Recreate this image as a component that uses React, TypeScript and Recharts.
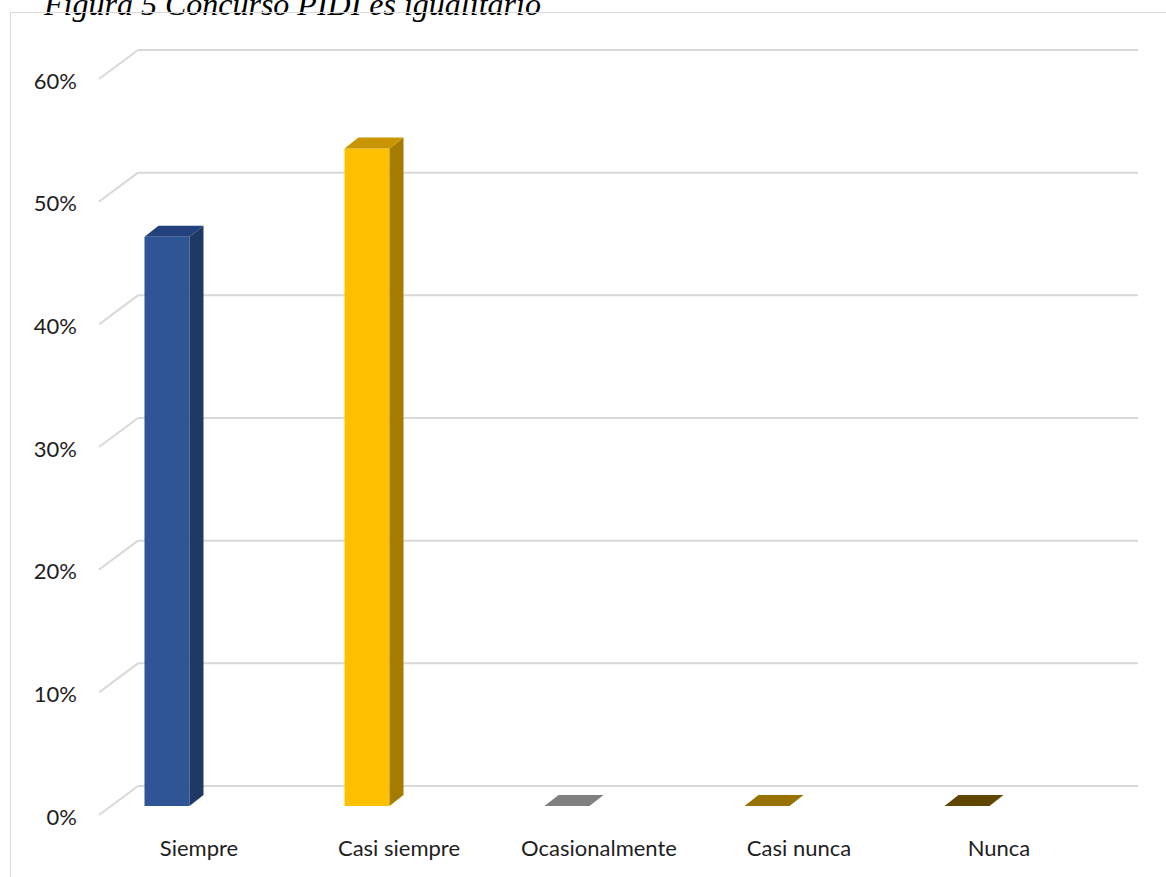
import React from "react";
import { Bar, BarChart, CartesianGrid, Cell, XAxis, YAxis } from "recharts";

const categories = ["Siempre", "Casi siempre", "Ocasionalmente", "Casi nunca", "Nunca"];
const shares = [0.464, 0.536, 0, 0, 0];
const yTicks = [0, 0.1, 0.2, 0.3, 0.4, 0.5, 0.6];

const faceColors = ["#2f5597", "#ffc000", "#7f7f7f", "#bf9000", "#7f6000"];
const sideColors = ["#203864", "#a67c00", "#606060", "#8a6800", "#5a4400"];
const topColors = ["#22417d", "#c89500", "#808080", "#977200", "#5f4600"];

const data = categories.map((label, i) => ({ label, v: shares[i] }));

const gridGrey = "#d9d9d9";
const labelFont = "Lato, 'Open Sans', sans-serif";

// pseudo 3D offsets (front plane vs back wall)
const FLOOR_DX = -39;
const FLOOR_DY = 29;
const BAR_DX = -71.5;
const BAR_DY = 20;
const DEPTH_X = 14;
const DEPTH_Y = -11;

const Column3D = (props: any) => {
	const { x, y, width, height, index } = props;
	const fx = x + BAR_DX;
	const fy = y + BAR_DY;
	const fb = y + height + BAR_DY;
	const r = fx + width;
	return (
		<g>
			{height > 0 && (
				<>
					<rect x={fx} y={fy} width={width} height={fb - fy} fill={faceColors[index]} />
					<polygon
						points={`${r},${fy} ${r + DEPTH_X},${fy + DEPTH_Y} ${r + DEPTH_X},${fb + DEPTH_Y} ${r},${fb}`}
						fill={sideColors[index]}
					/>
				</>
			)}
			<polygon
				points={`${fx},${fy} ${fx + DEPTH_X},${fy + DEPTH_Y} ${r + DEPTH_X},${fy + DEPTH_Y} ${r},${fy}`}
				fill={topColors[index]}
			/>
		</g>
	);
};

const ValueTick = ({ x, y, payload }: any) => (
	<g>
		<line
			x1={x}
			y1={y}
			x2={x + FLOOR_DX}
			y2={y + FLOOR_DY}
			stroke={gridGrey}
			strokeWidth={2}
		/>
		<text
			x={x - 61}
			y={y + 38.5}
			textAnchor="end"
			fontFamily={labelFont}
			fontSize={22}
			fill="#1e1e1e"
		>
			{`${Math.round(payload.value * 100)}%`}
		</text>
	</g>
);

const CategoryTick = ({ x, y, payload }: any) => (
	<text
		x={x + FLOOR_DX}
		y={y + 70}
		textAnchor="middle"
		fontFamily={labelFont}
		fontSize={22}
		fill="#1e1e1e"
	>
		{payload.value}
	</text>
);

export default function App() {
	return (
		<div
			style={{
				position: "absolute",
				left: 0,
				top: 0,
				width: 1166,
				height: 877,
				overflow: "hidden",
				background: "#fff",
			}}
		>
			<div
				style={{
					position: "absolute",
					left: 44,
					top: -12,
					fontFamily: "'Liberation Serif', 'Times New Roman', serif",
					fontStyle: "italic",
					fontSize: 32,
					lineHeight: "32px",
					whiteSpace: "nowrap",
					color: "#000",
				}}
			>
				Figura 5 Concurso PIDI es igualitario
			</div>
			<div
				style={{
					position: "absolute",
					left: 10,
					top: 12,
					width: 1200,
					height: 900,
					border: `1.5px solid ${gridGrey}`,
				}}
			/>
			<div style={{ position: "absolute", left: 0, top: 0 }}>
				<BarChart
					width={1166}
					height={877}
					data={data}
					margin={{ top: 50, right: 28, bottom: 61, left: 78 }}
					barSize={45}
				>
					<CartesianGrid
						vertical={false}
						stroke={gridGrey}
						strokeWidth={2}
					/>
					<XAxis
						dataKey="label"
						axisLine={false}
						tickLine={false}
						tickSize={0}
						tickMargin={0}
						height={30}
						interval={0}
						tick={<CategoryTick />}
					/>
					<YAxis
						domain={[0, 0.6]}
						ticks={yTicks}
						axisLine={false}
						tickLine={false}
						tickSize={0}
						tickMargin={0}
						width={60}
						tick={<ValueTick />}
					/>
					<Bar dataKey="v" isAnimationActive={false} shape={<Column3D />}>
						{data.map((d, i) => (
							<Cell key={d.label} fill={faceColors[i]} />
						))}
					</Bar>
				</BarChart>
			</div>
		</div>
	);
}
